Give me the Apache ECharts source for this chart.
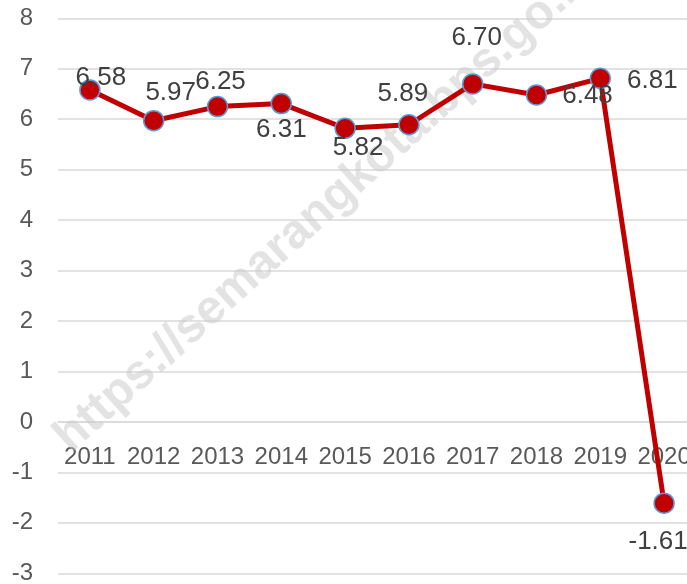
<!DOCTYPE html>
<html>
<head>
<meta charset="utf-8">
<script src="https://cdn.jsdelivr.net/npm/echarts@6/dist/echarts.min.js"></script>
<style>
html,body{margin:0;padding:0;background:#fff;}
#chart{width:687px;height:584px;}
</style>
</head>
<body>
<div id="chart"></div>
<script>
var years = ['2011','2012','2013','2014','2015','2016','2017','2018','2019','2020'];
var growth = [6.58, 5.97, 6.25, 6.31, 5.82, 5.89, 6.70, 6.48, 6.81, -1.61];
var yTicks = {min: -3, max: 8, interval: 1};
var labelOffsets = [[11,-12],[17,-28],[3,-25],[0,26],[13,20],[-6,-31],[4,-46],[51,1],[52,2],[-6,39]];

var FONT = '"Liberation Sans", Arial, sans-serif';
var chart = echarts.init(document.getElementById('chart'), null, {renderer: 'canvas'});

var seriesData = growth.map(function (v, i) {
  return {
    value: v,
    label: {
      show: true,
      position: 'inside',
      offset: labelOffsets[i],
      formatter: function (p) { return p.value.toFixed(2); }
    }
  };
});

// distance (px) from grid bottom (-3) up to the zero line
var gridTop = 18.3, gridBottom = 10.7, H = 584;
var plotH = H - gridTop - gridBottom;
var zeroShift = plotH * (0 - yTicks.min) / (yTicks.max - yTicks.min);

chart.setOption({
  animation: false,
  backgroundColor: '#ffffff',
  grid: {left: 58, top: gridTop, width: 638, bottom: gridBottom, containLabel: false, outerBoundsMode: 'none'},
  xAxis: {
    type: 'category',
    data: years,
    boundaryGap: true,
    position: 'bottom',
    offset: -zeroShift,
    axisLine: {show: true, onZero: false, lineStyle: {color: '#d9d9d9', width: 1.5}},
    axisTick: {show: false},
    axisLabel: {fontFamily: FONT, fontSize: 24, color: '#595959', margin: 23, interval: 0},
    splitLine: {show: false}
  },
  yAxis: {
    type: 'value',
    min: yTicks.min,
    max: yTicks.max,
    interval: yTicks.interval,
    axisLine: {show: false},
    axisTick: {show: false},
    axisLabel: {fontFamily: FONT, fontSize: 24, color: '#595959', margin: 25},
    splitLine: {show: true, lineStyle: {color: '#d9d9d9', width: 1.5}}
  },
  graphic: [{
    type: 'text',
    x: 62,
    y: 444,
    rotation: 42 * Math.PI / 180,
    z: 1,
    silent: true,
    style: {
      text: 'https://semarangkota.bps.go.id',
      fontFamily: FONT,
      fontWeight: 'bold',
      fontSize: 48,
      fill: 'rgba(200,200,200,0.5)',
      textAlign: 'left',
      textVerticalAlign: 'middle'
    }
  }],
  series: [{
    type: 'line',
    data: seriesData,
    z: 5,
    symbol: 'circle',
    symbolSize: 20,
    lineStyle: {color: '#C00000', width: 5},
    itemStyle: {color: '#C00000', borderColor: '#5B9BD5', borderWidth: 1.5},
    label: {fontFamily: FONT, fontSize: 26, color: '#404040'},
    emphasis: {disabled: true}
  }]
});
</script>
</body>
</html>
